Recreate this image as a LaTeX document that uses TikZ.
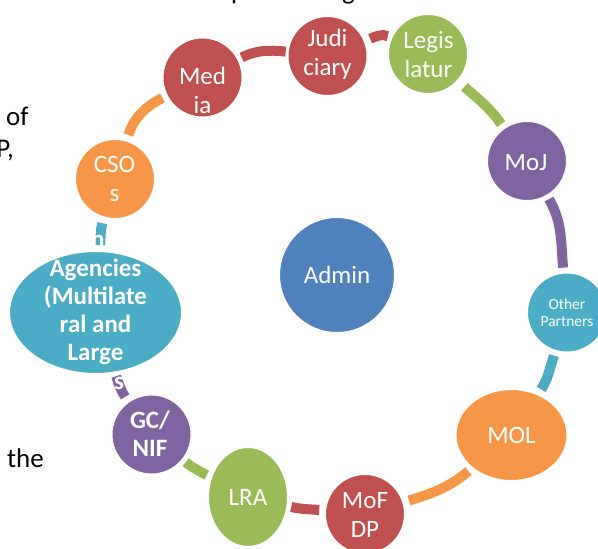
\documentclass[tikz,border=0pt]{standalone}
\usepackage{fontspec}
\setmainfont{Carlito}
\usetikzlibrary{shapes.geometric,backgrounds}
\definecolor{ored}{HTML}{C0504D}
\definecolor{ogreen}{HTML}{9BBB59}
\definecolor{opurple}{HTML}{8064A2}
\definecolor{oaqua}{HTML}{4BACC6}
\definecolor{oorange}{HTML}{F79646}
\definecolor{oblue}{HTML}{4F81BD}
\begin{document}
\begin{tikzpicture}[x=1pt,y=-1pt,
  bubble/.style={circle,draw=white,line width=2pt,inner sep=0pt,minimum size=80pt},
  oval/.style={ellipse,draw=white,line width=2pt,inner sep=0pt},
  lbl/.style={anchor=base,text=white,align=center,inner sep=0pt,font=\fontsize{25}{29}\selectfont},
  blbl/.style={lbl,font=\bfseries\fontsize{25}{28}\selectfont},
  smalllbl/.style={lbl,font=\fontsize{15.5}{17}\selectfont},
  conn/.style={draw=#1,line width=10pt},
  sidetext/.style={text=black,inner sep=0pt,font=\fontsize{27}{32}\selectfont}]
\useasboundingbox (0,0) rectangle (598,549);

% cycle members
\node[bubble,fill=ored] (judiciary) at (327.5,56) {};
\node[bubble,fill=ogreen] (legislatur) at (428,54) {};
\node[bubble,fill=ored] (media) at (202.5,77.5) {};
\node[bubble,fill=oorange] (csos) at (115,179) {};
\node[bubble,fill=opurple] (moj) at (527,161) {};
\node[bubble,fill=oaqua] (partners) at (567,312.5) {};
\node[oval,fill=oorange,minimum width=112pt,minimum height=92pt] (mol) at (511.5,435) {};
\node[bubble,fill=ored] (mofdp) at (365,514) {};
\node[oval,fill=ogreen,minimum width=80pt,minimum height=100pt] (lra) at (248,497) {};
\node[bubble,fill=opurple] (gcnif) at (151.5,434.5) {};
\node[oval,fill=oaqua,minimum width=173pt,minimum height=123pt] (agencies) at (95.5,312.5) {};
\node[bubble,fill=oblue,minimum size=116pt] (admin) at (337,275) {};

% arc connectors, each in the colour of the member it leaves
\begin{scope}[on background layer]
  \fill[white] (0,0) rectangle (598,549);
  \draw[conn=ored,shorten <=3pt,shorten >=1pt] (media) to[out=27,in=174] (judiciary);
  \draw[conn=ored,shorten <=5pt,shorten >=3pt] (judiciary) to[out=22,in=156] (legislatur);
  \draw[conn=ogreen,shorten <=8pt,shorten >=4pt] (legislatur) to[out=-42,in=125] (moj);
  \draw[conn=opurple,shorten <=3pt,shorten >=4pt] (moj) to[out=-60,in=95] (partners);
  \draw[conn=oaqua,shorten <=4pt,shorten >=5pt] (partners) to[out=-107,in=57] (mol);
  \draw[conn=oorange,shorten <=4pt,shorten >=5pt] (mol) to[out=-140,in=17] (mofdp);
  \draw[conn=ored,shorten <=5pt,shorten >=3pt] (mofdp) to[out=175,in=-13] (lra);
  \draw[conn=ogreen,shorten <=4pt,shorten >=3pt] (lra) to[out=152,in=-39] (gcnif);
  \draw[conn=opurple,shorten <=5pt,shorten >=3pt] (gcnif) to[out=125,in=-72] (agencies);
  \draw[conn=oaqua,shorten <=5pt,shorten >=5pt] (agencies) to[out=86,in=-106] (csos);
  \draw[conn=oorange,shorten <=5pt,shorten >=4pt] (csos) to[out=73,in=-153] (media);
\end{scope}

% member labels (positioned at the baseline of their last line)
\node[lbl] (judiciaryT) at (327.5,75) {Judi\\ciary};
\node[lbl] (legislaturT) at (428.5,77) {Legis\\latur};
\node[lbl] (mediaT) at (202.5,113) {Med\\ia};
\node[lbl] (csosT) at (114.5,201) {CSO\\s};
\node[lbl] (mojT) at (526,170) {MoJ};
\node[lbl] (adminT) at (337,283) {Admin};
\node[smalllbl] (partnersT) at (567,326) {Other\\Partners};
\node[lbl] (molT) at (511.5,443) {MOL};
\node[lbl] (mofdpT) at (365,537) {MoF\\DP};
\node[lbl] (lraT) at (248,505) {LRA};
\node[blbl] (gcnifT) at (150,456) {GC/\\NIF};
\node[blbl] (agenciesT) at (95.5,360) {Agencies\\(Multilate\\ral and\\Large};
\node[blbl,anchor=base west] (agenciesN) at (91,247) {n};
\node[blbl,anchor=base west] (agenciesS) at (114,389) {s};

% surrounding slide text
\node[sidetext,anchor=base west] (ofT) at (6,125) {of};
\node[sidetext,anchor=base east] (pT) at (14,157) {P,};
\node[sidetext,anchor=base west] (theT) at (7,467) {the};
\node[sidetext,anchor=base west] (topP) at (231,-0.5) {p};
\node[sidetext,anchor=base west] (topG) at (342,-0.5) {g};
\end{tikzpicture}
\end{document}
